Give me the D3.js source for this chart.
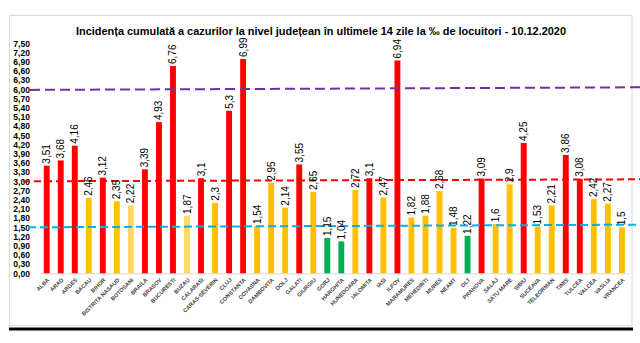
<!DOCTYPE html>
<html>
<head>
<meta charset="utf-8">
<script src="https://cdn.jsdelivr.net/npm/d3@7"></script>
<style>
  html, body { margin: 0; padding: 0; background: #fff; }
  svg { display: block; }
</style>
</head>
<body>
<svg id="chart" width="640" height="343"></svg>
<script>
// ---- data ----
const counties = ["ALBA","ARAD","ARGES","BACAU","BIHOR","BISTRITA NASAUD","BOTOSANI","BRAILA","BRASOV","BUCURESTI","BUZAU","CALARASI","CARAS-SEVERIN","CLUJ","CONSTANTA","COVASNA","DAMBOVITA","DOLJ","GALATI","GIURGIU","GORJ","HARGHITA","HUNEDOARA","IALOMITA","IASI","ILFOV","MARAMURES","MEHEDINTI","MURES","NEAMT","OLT","PRAHOVA","SALAJ","SATU MARE","SIBIU","SUCEAVA","TELEORMAN","TIMIS","TULCEA","VALCEA","VASLUI","VRANCEA"];
const values = [3.51,3.68,4.16,2.46,3.12,2.35,2.22,3.39,4.93,6.76,1.87,3.1,2.3,5.3,6.99,1.54,2.95,2.14,3.55,2.65,1.15,1.04,2.72,3.1,2.47,6.94,1.82,1.88,2.68,1.48,1.22,3.09,1.6,2.9,4.25,1.53,2.21,3.86,3.08,2.42,2.27,1.5];
// colour category per county: r = red, o = orange, l = light yellow, g = green
const levels = ["r","r","r","o","r","o","l","r","r","r","l","r","o","r","r","o","o","o","r","o","g","g","o","r","o","r","o","o","o","o","g","r","o","o","r","o","o","r","r","o","o","o"];
const yTickValues = [0,0.3,0.6,0.9,1.2,1.5,1.8,2.1,2.4,2.7,3.0,3.3,3.6,3.9,4.2,4.5,4.8,5.1,5.4,5.7,6.0,6.3,6.6,6.9,7.2,7.5];
const refLineNames = ["purple","red","blue"];
const refLineStart = [5.98,3.0,1.5];
const refLineEnd = [6.065,3.065,1.585];
const title = "Incidența cumulată a cazurilor la nivel județean în ultimele 14 zile la ‰ de locuitori - 10.12.2020";

// ---- styles ----
const levelColor = { r: "#FF0000", o: "#FFC000", l: "#FFD966", g: "#00B050" };
const refColor = { purple: "#7030A0", red: "#FF0000", blue: "#00B0F0" };
const refX0 = { purple: 30, red: 23, blue: 28 };
const refDash = { purple: "10,5", red: "7,4", blue: "8,4" };

const svg = d3.select("#chart");
const comma = v => String(v).replace(".", ",");

const x = d3.scaleBand().domain(counties).range([39.7, 628.9]).paddingInner(0.58).paddingOuter(0.29);
const y = d3.scaleLinear().domain([0, 7.5]).range([273.3, 43.3]);

// frame
svg.append("rect").attr("x", 9.5).attr("y", 15.5).attr("width", 622.5).attr("height", 310)
  .attr("fill", "#fff").attr("stroke", "#d9d9d9").attr("stroke-width", 1);
svg.append("line").attr("x1", 9).attr("x2", 633).attr("y1", 329).attr("y2", 329)
  .attr("stroke", "#000").attr("stroke-width", 2.8);

// title
svg.append("text").attr("x", 321).attr("y", 34.5).attr("text-anchor", "middle")
  .attr("font-family", "Liberation Sans, Arial, sans-serif").attr("font-weight", "bold")
  .attr("font-size", 10.5).attr("fill", "#000")
  .attr("textLength", 490).attr("lengthAdjust", "spacingAndGlyphs")
  .text(title);

// y axis (labels only)
const yAxis = d3.axisLeft(y).tickValues(yTickValues).tickSize(0).tickPadding(0)
  .tickFormat(d => d3.format(".2f")(d).replace(".", ","));
const gy = svg.append("g").attr("transform", "translate(30,0)").call(yAxis);
gy.select(".domain").remove();
gy.selectAll("text").attr("font-family", "Liberation Sans, Arial, sans-serif")
  .attr("font-weight", "bold").attr("font-size", 8.6).attr("fill", "#000");

// baseline
svg.append("line").attr("x1", 39.7).attr("x2", 628.9).attr("y1", y(0) + 0.5).attr("y2", y(0) + 0.5)
  .attr("stroke", "#d9d9d9").attr("stroke-width", 1);

// bars
svg.append("g").selectAll("rect").data(counties).join("rect")
  .attr("x", d => x(d))
  .attr("width", x.bandwidth())
  .attr("y", (d, i) => y(values[i]))
  .attr("height", (d, i) => y(0) - y(values[i]))
  .attr("fill", (d, i) => levelColor[levels[i]]);

// reference lines
svg.append("g").selectAll("line").data(refLineNames).join("line")
  .attr("x1", d => refX0[d]).attr("x2", 640)
  .attr("y1", (d, i) => y(refLineStart[i]))
  .attr("y2", (d, i) => y(refLineEnd[i]))
  .attr("stroke", d => refColor[d]).attr("stroke-width", 2)
  .attr("stroke-dasharray", d => refDash[d]);

// x labels
svg.append("g").selectAll("text").data(counties).join("text")
  .attr("transform", d => `translate(${x(d) + x.bandwidth() / 2 + 3},${y(0) + 7}) rotate(-45)`)
  .attr("text-anchor", "end")
  .attr("font-family", "Liberation Sans, Arial, sans-serif")
  .attr("font-weight", "bold").attr("font-size", 5.6).attr("fill", "#404040")
  .text(d => d);

// value labels
svg.append("g").selectAll("text").data(counties).join("text")
  .attr("transform", (d, i) => `translate(${x(d) + x.bandwidth() / 2 + 3.5},${y(values[i]) - 2}) rotate(-90)`)
  .attr("text-anchor", "start")
  .attr("font-family", "Liberation Sans, Arial, sans-serif")
  .attr("font-size", 10).attr("fill", "#000")
  .text((d, i) => comma(values[i]));
</script>
</body>
</html>
